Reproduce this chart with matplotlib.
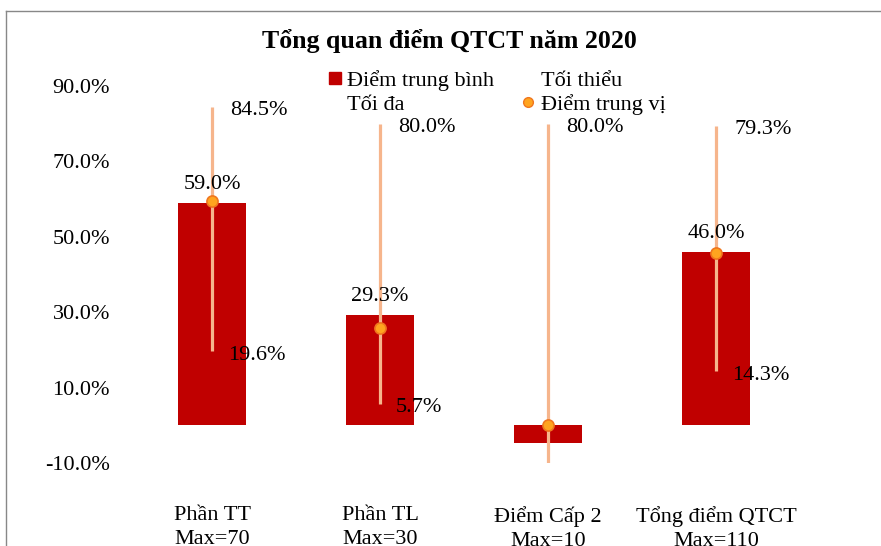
import matplotlib.pyplot as plt
from matplotlib.lines import Line2D

# chart values (percent)
categories = ['Phần TT\nMax=70', 'Phần TL\nMax=30', 'Điểm Cấp 2\nMax=10', 'Tổng điểm QTCT\nMax=110']
mean_vals = [59.0, 29.3, -4.6, 46.0]
median_vals = [59.6, 25.7, 0.0, 45.6]
min_vals = [19.6, 5.7, -10.0, 14.3]
max_vals = [84.5, 80.0, 80.0, 79.3]
show_mean_label = [True, True, False, True]
show_min_label = [True, True, False, True]
y_ticks = [-10, 10, 30, 50, 70, 90]

bar_color = '#C00000'
line_color = '#F6B58C'
dot_face = '#FFA41F'
dot_edge = '#F0761E'

plt.rcParams['font.family'] = ['Liberation Serif', 'DejaVu Serif']

fig = plt.figure(figsize=(8.81, 5.46), dpi=100)
ax = fig.add_axes([128 / 881, 83 / 546, 672 / 881, 377 / 546])

x = list(range(len(categories)))
ax.bar(x, mean_vals, width=0.4, color=bar_color, zorder=2)
ax.vlines(x, min_vals, max_vals, color=line_color, linewidth=2.3, zorder=3)
ax.plot(x, median_vals, linestyle='none', marker='o', markersize=8,
        markerfacecolor=dot_face, markeredgecolor=dot_edge, markeredgewidth=1.2, zorder=4)

for i in x:
    ax.annotate(f'{max_vals[i]:.1f}%', (i, max_vals[i]), xytext=(13, -2.5), textcoords='offset points',
                ha='left', va='center', fontsize=16)
    if show_min_label[i]:
        ax.annotate(f'{min_vals[i]:.1f}%', (i, min_vals[i]), xytext=(11.5, -3), textcoords='offset points',
                    ha='left', va='center', fontsize=16)
    if show_mean_label[i]:
        ax.annotate(f'{mean_vals[i]:.1f}%', (i, mean_vals[i]), xytext=(0, 13.5), textcoords='offset points',
                    ha='center', va='center', fontsize=16)

ax.set_xlim(-0.5, 3.5)
ax.set_ylim(-10, 90)
ax.set_yticks(y_ticks)
ax.set_yticklabels([f'{v:.1f}%' for v in y_ticks], fontsize=16)
ax.set_xticks(x)
ax.set_xticklabels(categories, fontsize=16, linespacing=1.35)
ax.tick_params(axis='both', length=0)
ax.tick_params(axis='y', pad=13)
ax.tick_params(axis='x', pad=31)
for s in ax.spines.values():
    s.set_visible(False)

# legend (two invisible entries for min / max)
handles = [
    Line2D([], [], linestyle='none', marker='s', markersize=8, color=bar_color),
    Line2D([], [], linestyle='none'),
    Line2D([], [], linestyle='none'),
    Line2D([], [], linestyle='none', marker='o', markersize=7,
           markerfacecolor=dot_face, markeredgecolor=dot_edge),
]
labels = ['Điểm trung bình', 'Tối đa', 'Tối thiểu', 'Điểm trung vị']
fig.legend(handles, labels, ncol=2, loc='upper left', bbox_to_anchor=(318 / 881, 1 - 59 / 546),
           frameon=False, fontsize=16, handlelength=0.5, handletextpad=0.3,
           columnspacing=1.3, labelspacing=0.15, borderpad=0)

fig.text(449 / 881, 1 - 41 / 546, 'Tổng quan điểm QTCT năm 2020', ha='center', va='center',
         fontsize=18.6, fontweight='bold')

# outer chart frame (cropped)
fig.add_artist(Line2D([6 / 881, 6 / 881], [0, 1 - 11 / 546], transform=fig.transFigure, color='#888888', lw=1))
fig.add_artist(Line2D([6 / 881, 1], [1 - 11 / 546, 1 - 11 / 546], transform=fig.transFigure, color='#888888', lw=1))

fig.savefig('out.png', dpi=100)
